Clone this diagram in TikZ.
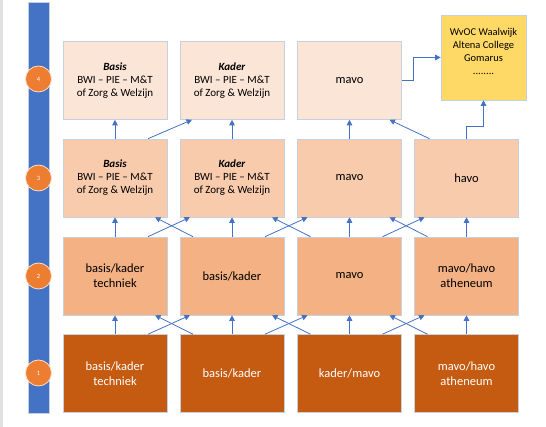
\documentclass[tikz,border=0pt]{standalone}
\usepackage{fontspec}
\setmainfont{Carlito}
\usetikzlibrary{arrows.meta}
\definecolor{barblue}{HTML}{4472C4}
\definecolor{circorange}{HTML}{ED7D31}
\definecolor{rowone}{HTML}{C55A11}
\definecolor{rowtwo}{HTML}{F4B183}
\definecolor{rowthree}{HTML}{F8CBAD}
\definecolor{rowfour}{HTML}{FBE5D6}
\definecolor{schoolyellow}{HTML}{FFD966}
\definecolor{boxline}{HTML}{C8D0DE}
\newcommand{\trackname}[1]{\textbf{\textit{#1}}\\BWI -- PIE -- M\&T\\of Zorg \& Welzijn}

\begin{document}
\begin{tikzpicture}[x=1pt,y=1pt,
  box/.style={draw=boxline, line width=0.6pt, minimum width=104pt, minimum height=78pt,
    inner sep=0pt, align=center, font=\fontsize{12.5}{15}\selectfont},
  small/.style={font=\fontsize{11}{13}\selectfont},
  lvl/.style={circle, fill=circorange, draw=white!75!circorange, line width=0.8pt,
    minimum size=26pt, inner sep=0pt, text=white, font=\fontsize{6.5}{7}\selectfont},
  link/.style={barblue, line width=0.8pt, -{Triangle[length=5.5pt,width=5.5pt]}}]
  \useasboundingbox (0,0) rectangle (546,427);

  % Left edge and level bar
  \fill[black!12] (0,0) rectangle (2.5,427);
  \node[draw=boxline, fill=barblue, line width=0.6pt, minimum width=21pt, minimum height=411pt,
    inner sep=0pt] (bar) at (38.5,219.5) {};
  \foreach \n/\y in {1/54, 2/151, 3/249, 4/348}
    \node[lvl] (lvl\n) at (38.5,\y) {\n};

  % Level 1
  \node[box, fill=rowone, text=white] (r1c1) at (115,53.5) {basis/kader\\techniek};
  \node[box, fill=rowone, text=white] (r1c2) at (232,53.5) {basis/kader};
  \node[box, fill=rowone, text=white] (r1c3) at (349.5,53.5) {kader/mavo};
  \node[box, fill=rowone, text=white] (r1c4) at (466.5,53.5) {mavo/havo\\atheneum};

  % Level 2
  \node[box, fill=rowtwo] (r2c1) at (115,151) {basis/kader\\techniek};
  \node[box, fill=rowtwo] (r2c2) at (232,151) {basis/kader};
  \node[box, fill=rowtwo] (r2c3) at (349.5,151) {mavo};
  \node[box, fill=rowtwo] (r2c4) at (466.5,151) {mavo/havo\\atheneum};

  % Level 3
  \node[box, small, fill=rowthree] (r3c1) at (115,249) {\trackname{Basis}};
  \node[box, small, fill=rowthree] (r3c2) at (232,249) {\trackname{Kader}};
  \node[box, fill=rowthree] (r3c3) at (349.5,249) {mavo};
  \node[box, fill=rowthree] (r3c4) at (466.5,249) {havo};

  % Level 4
  \node[box, small, fill=rowfour] (r4c1) at (115,346.5) {\trackname{Basis}};
  \node[box, small, fill=rowfour] (r4c2) at (232,346.5) {\trackname{Kader}};
  \node[box, fill=rowfour] (r4c3) at (349.5,346.5) {mavo};
  \node[box, fill=schoolyellow, minimum width=85pt, minimum height=85pt,
    font=\fontsize{10.5}{13}\selectfont] (wvoc) at (483.5,369.5)
    {WvOC Waalwijk\\Altena College\\Gomarus\\........\\ \mbox{}};

  % Straight up
  \foreach \c in {1,...,4} {
    \draw[link] (r1c\c.north) -- (r2c\c.south);
    \draw[link] (r2c\c.north) -- (r3c\c.south);
  }
  \foreach \c in {1,2,3}
    \draw[link] (r3c\c.north) -- (r4c\c.south);

  % Crossings
  \foreach \a/\b in {1/2, 2/3, 3/4} {
    \draw[link] ([xshift=33pt]r1c\a.north) -- ([xshift=-42pt]r2c\b.south);
    \draw[link] ([xshift=-39pt]r1c\b.north) -- ([xshift=40pt]r2c\a.south);
    \draw[link] ([xshift=33pt]r2c\a.north) -- ([xshift=-42pt]r3c\b.south);
    \draw[link] ([xshift=-39pt]r2c\b.north) -- ([xshift=40pt]r3c\a.south);
  }
  \draw[link] ([xshift=33pt]r3c1.north) -- ([xshift=-40pt]r4c2.south);
  \draw[link] ([xshift=-37pt]r3c4.north) -- ([xshift=40pt]r4c3.south);

  % To the schools
  \draw[link] (r3c4.north) -- ++(0,12) -| (wvoc.south);
  \draw[link] (r4c3.east) -- ++(11.5,0) |- (wvoc.west);
\end{tikzpicture}
\end{document}
